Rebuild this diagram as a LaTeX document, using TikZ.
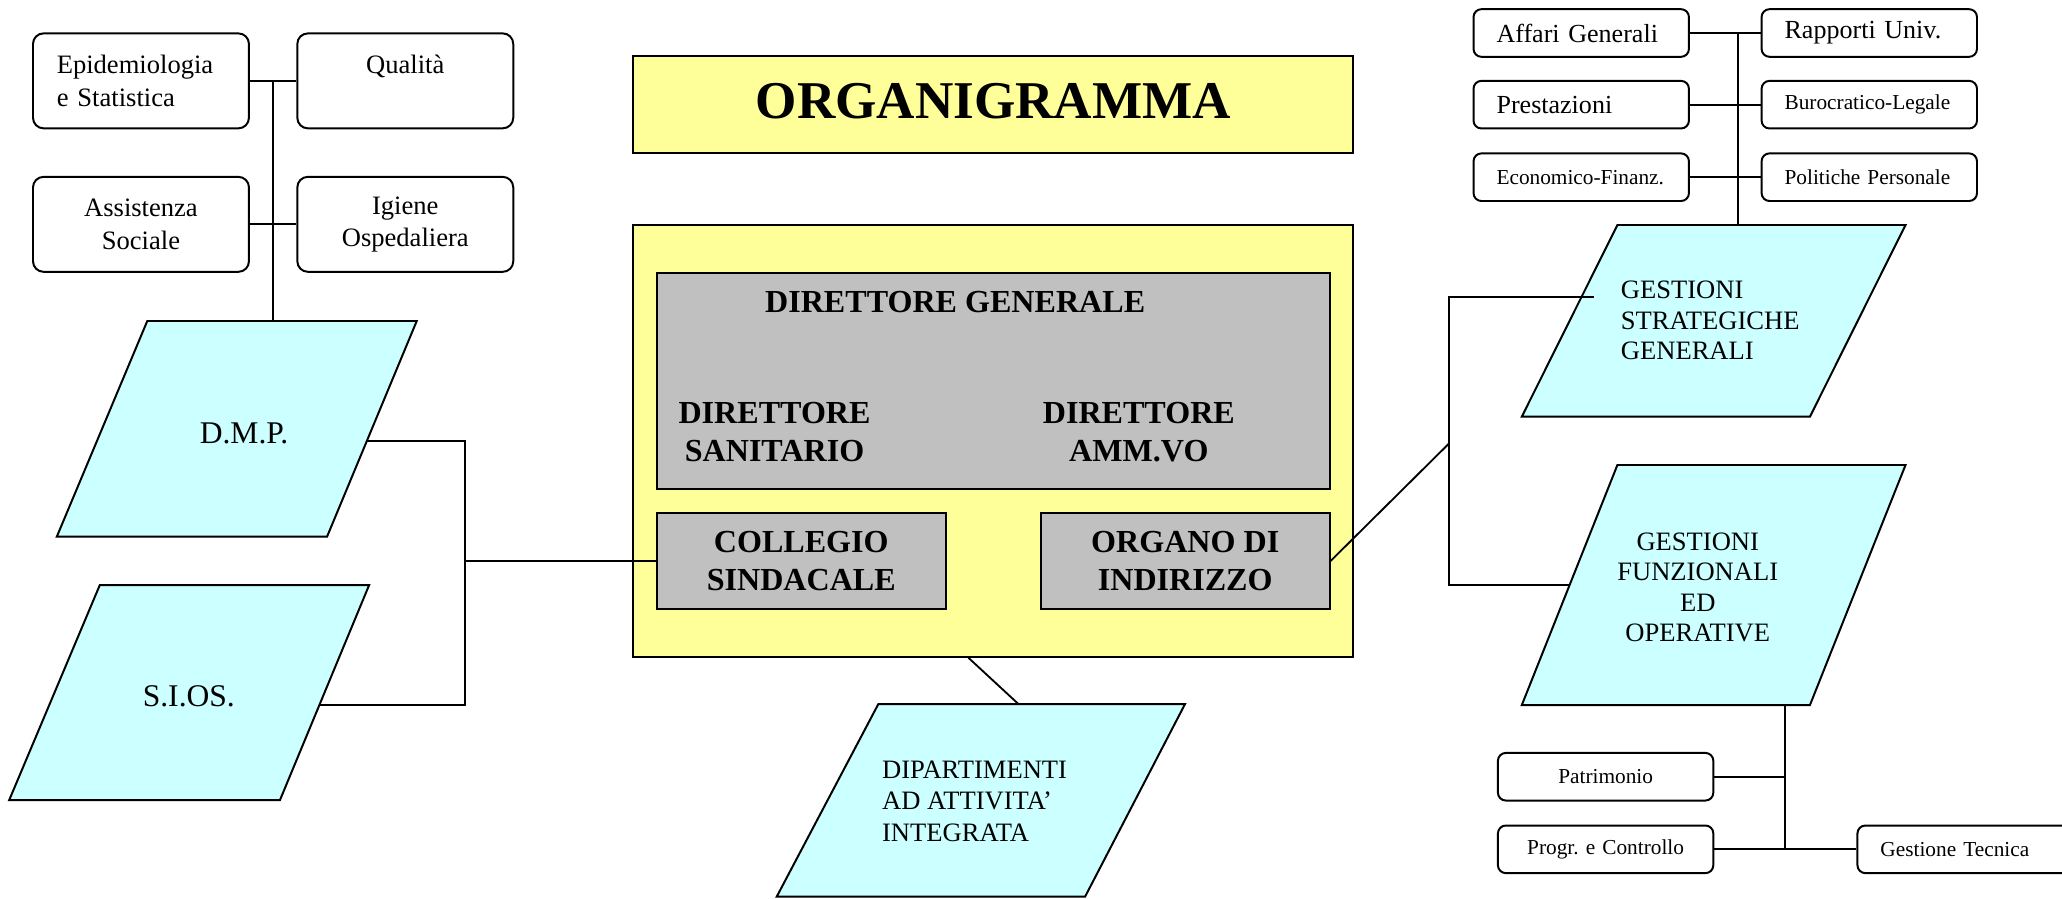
\documentclass[tikz,border=0pt]{standalone}
\usepackage{fontspec}
\setmainfont{Liberation Serif}
\usetikzlibrary{calc}
\definecolor{pyellow}{HTML}{FFFF99}
\definecolor{pgray}{HTML}{C0C0C0}
\definecolor{pcyan}{HTML}{CCFFFF}
\newcommand\fsz[2]{\fontsize{#1pt}{#2pt}\selectfont}
\frenchspacing
\begin{document}
\begin{tikzpicture}[x=0.5pt,y=-0.5pt,
  shapeline/.style={draw=black,line width=0.75pt},
  conn/.style={draw=black,line width=0.7pt},
  rbox/.style={shapeline,rounded corners=4pt,fill=white,inner sep=0pt,minimum width=82.1pt,minimum height=36.1pt,font=\fsz{10.1}{12.3}},
  sbox/.style={shapeline,rounded corners=3pt,fill=white,inner ysep=0pt,inner xsep=8.75pt,text width=64.4pt,align=left,minimum width=81.9pt,minimum height=18.1pt,font=\fsz{9.9}{12}},
  gbox/.style={shapeline,fill=pgray,inner sep=0pt},
  para/.style={shapeline,fill=pcyan},
  bigtext/.style={font=\bfseries\fsz{12.2}{14.45},align=center,inner sep=0pt},
  ptext/.style={font=\fsz{10.1}{11.65},inner sep=0pt}
]
\useasboundingbox (0,0) rectangle (1568,683);
\clip (0,0) rectangle (1568,683);

% ---------- centre ----------
\node[shapeline,fill=pyellow,minimum width=273.85pt,minimum height=36.75pt,inner sep=0pt] (title) at (755.1,79.35) {};
\node[font=\bfseries\fsz{20.2}{24},inner sep=0pt,anchor=base] (titletext) at (755.3,90) {ORGANIGRAMMA};
\node[shapeline,fill=pyellow,minimum width=273.85pt,minimum height=164.15pt,inner sep=0pt] (yelbox) at (755.05,335.25) {};
\node[gbox,minimum width=255.75pt,minimum height=82.1pt] (dirbox) at (755.25,289.5) {};
\node[bigtext,anchor=base] (dgen) at (726.35,237.8) {DIRETTORE GENERALE};
\node[bigtext,anchor=base] (dsan) at (589,351.1) {DIRETTORE\\SANITARIO};
\node[bigtext,anchor=base] (damm) at (866,351.1) {DIRETTORE\\AMM.VO};
\node[gbox,bigtext,minimum width=109.8pt,minimum height=36.25pt] (coll) at (609.3,426.65) {COLLEGIO\\SINDACALE};
\node[gbox,bigtext,minimum width=109.7pt,minimum height=36.25pt] (org) at (901.3,426.65) {ORGANO DI\\INDIRIZZO};

% ---------- left boxes ----------
\node[rbox,align=left,text width=64pt] (epi) at (107.2,61.5) {Epidemiologia\\e Statistica};
\node[rbox,align=center] (qual) at (308.2,61.5) {Qualità\\~};
\node[rbox,align=center] (assist) at (107.2,170.6) {Assistenza\\Sociale};
\node[rbox,align=center] (igiene) at (308.2,170.6) {Igiene\\Ospedaliera};

% ---------- parallelograms ----------
\coordinate (dmp-tl) at (112,244.1);   \coordinate (dmp-tr) at (316.9,244.1);
\coordinate (dmp-br) at (248.7,408.1); \coordinate (dmp-bl) at (43.2,408.1);
\path[para] (dmp-tl) -- (dmp-tr) -- (dmp-br) -- (dmp-bl) -- cycle;
\node[font=\fsz{12}{14},inner sep=0pt,anchor=base] (dmp) at (185.6,337) {D.M.P.};

\coordinate (sios-tl) at (75.9,444.9);  \coordinate (sios-tr) at (280.7,444.9);
\coordinate (sios-br) at (212.9,608.4); \coordinate (sios-bl) at (7,608.4);
\path[para] (sios-tl) -- (sios-tr) -- (sios-br) -- (sios-bl) -- cycle;
\node[font=\fsz{12}{14},inner sep=0pt,anchor=base] (sios) at (143.6,537.4) {S.I.OS.};

\coordinate (dai-tl) at (667.9,535.4);  \coordinate (dai-tr) at (901.1,535.4);
\coordinate (dai-br) at (825.1,681.9);  \coordinate (dai-bl) at (590.6,681.9);
\path[para] (dai-tl) -- (dai-tr) -- (dai-br) -- (dai-bl) -- cycle;
\node[ptext,font=\fsz{10.1}{12},align=left,anchor=base west] (dai) at (670.4,639.9) {DIPARTIMENTI\\AD ATTIVITA’\\INTEGRATA};

\coordinate (gsg-tl) at (1229.9,171.1);  \coordinate (gsg-tr) at (1449,171.1);
\coordinate (gsg-br) at (1376.3,316.9);  \coordinate (gsg-bl) at (1157.2,316.9);
\path[para] (gsg-tl) -- (gsg-tr) -- (gsg-br) -- (gsg-bl) -- cycle;
\node[ptext,align=left,anchor=base west] (gsg) at (1232.2,273.5) {GESTIONI\\STRATEGICHE\\GENERALI};

\coordinate (gfo-tl) at (1229.9,353.6);  \coordinate (gfo-tr) at (1449,353.6);
\coordinate (gfo-br) at (1376.3,536.2);  \coordinate (gfo-bl) at (1157.2,536.2);
\path[para] (gfo-tl) -- (gfo-tr) -- (gfo-br) -- (gfo-bl) -- cycle;
\node[ptext,font=\fsz{10.1}{11.6},align=center,anchor=base] (gfo) at (1291,488) {GESTIONI\\FUNZIONALI\\ED\\OPERATIVE};

% ---------- right boxes ----------
\node[sbox] (affari) at (1202.4,25.1) {Affari Generali};
\node[sbox] (rapp) at (1421.45,25.1) {Rapporti Univ.};
\node[sbox] (prest) at (1202.4,79.6) {Prestazioni};
\node[sbox,font=\fsz{8.1}{10}] (buro) at (1421.45,79.6) {Burocratico-Legale};
\node[sbox,font=\fsz{8.1}{10}] (econ) at (1202.4,134.75) {Economico-Finanz.};
\node[sbox,font=\fsz{8.1}{10}] (polit) at (1421.45,134.75) {Politiche Personale};

\node[sbox,font=\fsz{8.1}{10},align=center] (patr) at (1220.95,590.65) {Patrimonio};
\node[sbox,font=\fsz{8.1}{10},align=center] (prog) at (1220.95,645.85) {Progr. e Controllo};
\node[sbox,font=\fsz{8.1}{10}] (gest) at (1494.35,645.85) {Gestione Tecnica};

% ---------- connectors ----------
\draw[conn] (epi.east) -- (qual.west);
\draw[conn] (assist.east) -- (igiene.west);
\draw[conn] ($(epi.east)!0.5!(qual.west)$) coordinate (lv) -- (lv |- dmp-tl);

\coordinate (dmpr) at ($(dmp-tr)!0.557!(dmp-br)$);
\coordinate (siosr) at ($(sios-tr)!0.558!(sios-br)$);
\coordinate (lj) at (353.7,426.65);
\draw[conn] (dmpr) -| (lj) |- (siosr);
\draw[conn] (lj) -- (coll.west);

\draw[conn] ($(yelbox.south west)!0.466!(yelbox.south east)$) -- ($(dai-tl)!0.457!(dai-tr)$);

\coordinate (rj) at (1101.9,337.2);
\coordinate (gsgin) at (1211.9,226.1);
\coordinate (gfol) at ($(gfo-tl)!0.5!(gfo-bl)$);
\draw[conn] (org.east) -- (rj);
\draw[conn] (gsgin) -| (rj) |- (gfol);

\coordinate (gsgtop) at ($(gsg-tl)!0.4176!(gsg-tr)$);
\draw[conn] (gsgtop) -- (gsgtop |- affari.east);
\draw[conn] (affari.east) -- (rapp.west);
\draw[conn] (prest.east) -- (buro.west);
\draw[conn] (econ.east) -- (polit.west);

\coordinate (gfobot) at ($(gfo-bl)!0.9137!(gfo-br)$);
\draw[conn] (gfobot) -- (gfobot |- prog.east);
\draw[conn] (patr.east) -- (patr.east -| gfobot);
\draw[conn] (prog.east) -- (gest.west);
\end{tikzpicture}
\end{document}
